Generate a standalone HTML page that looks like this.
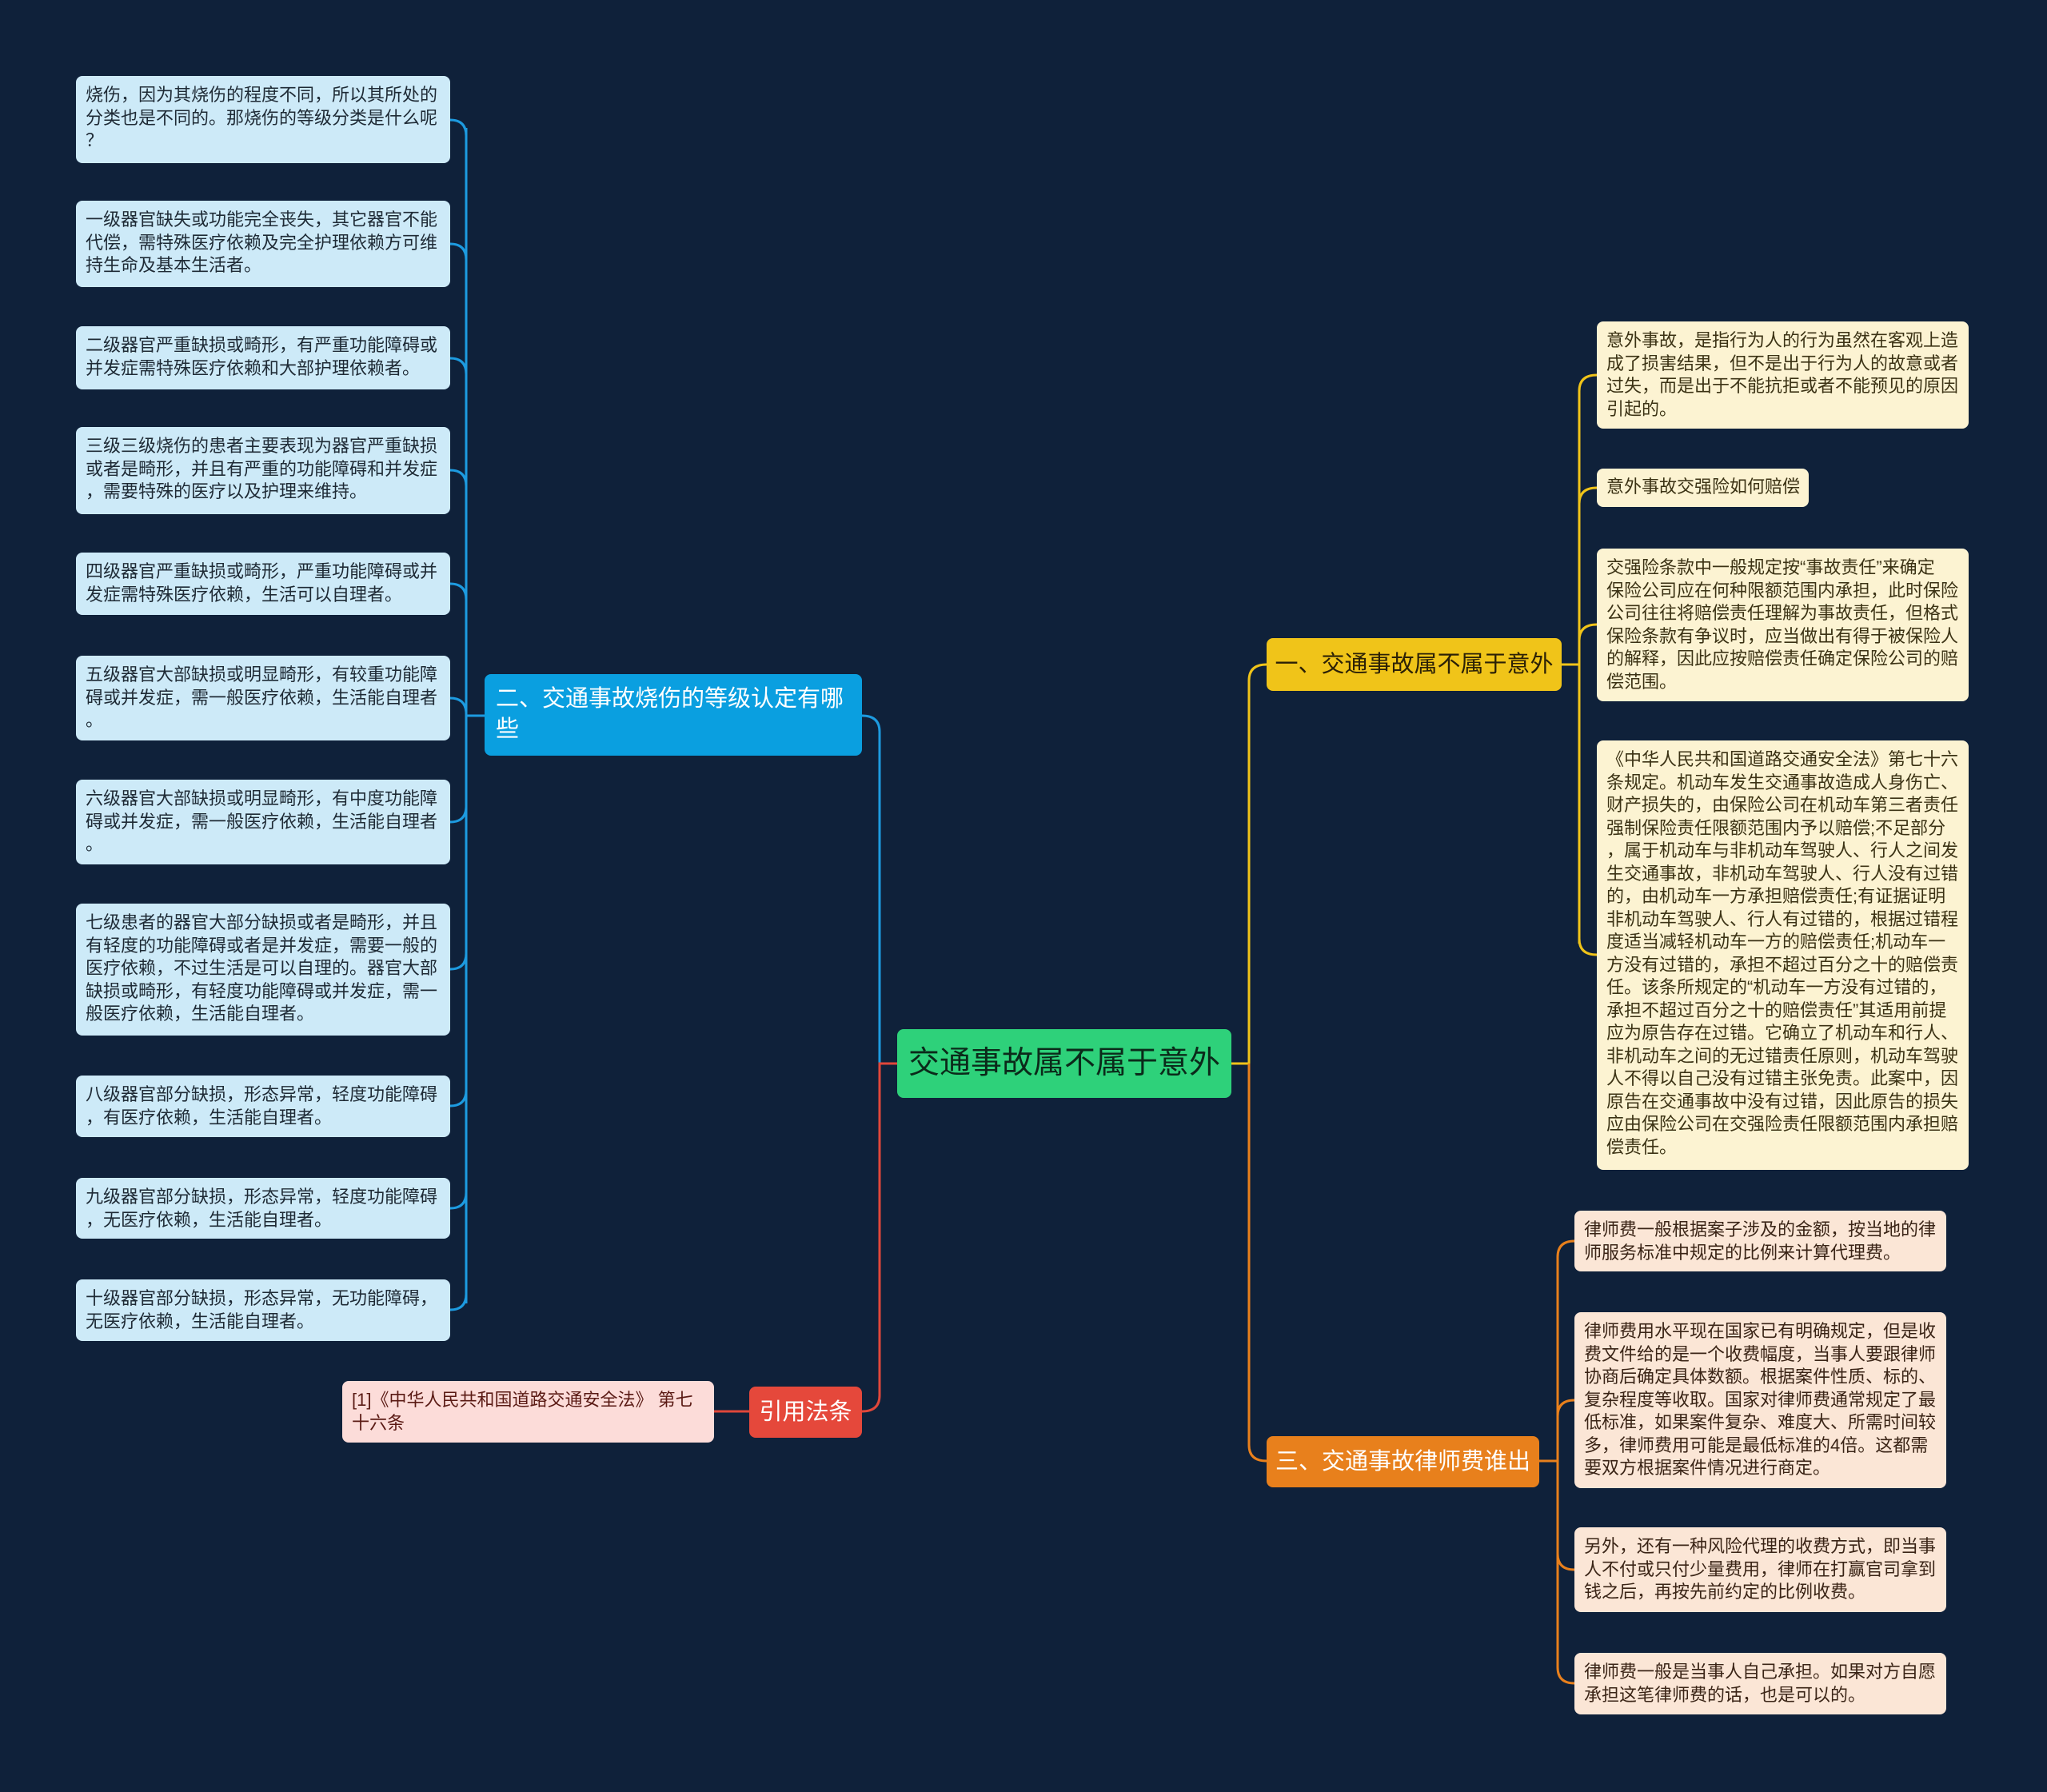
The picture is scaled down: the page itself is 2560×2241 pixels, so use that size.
<!DOCTYPE html>
<html><head><meta charset="utf-8"><style>
body{margin:0;width:2560px;height:2241px;background:#0f213a;position:relative;overflow:hidden;font-family:"Liberation Sans","Noto Sans CJK SC",sans-serif}
.b{position:absolute;box-sizing:border-box;border-radius:8px;font-size:22px;line-height:28.5px;padding:10px 12px;white-space:nowrap;color:#222}
.lb{background:#cdeaf8;color:#1e2a35}
.cr{background:#fcf3d2;color:#3b3214}
.pc{background:#fbe6d6;color:#3a2416}
.pk{background:#fcdcd9;color:#5a1a14}
.n{position:absolute;box-sizing:border-box;border-radius:8px;color:#fff;white-space:nowrap}
svg{position:absolute;left:0;top:0}
</style></head><body>
<svg width="2560" height="2241" fill="none" stroke-width="3">
<g stroke="#1d9be0">
<path d="M583 160 V1630"/>
<path d="M563 150 Q583 150 583 170"/><path d="M563 305 Q583 305 583 325"/><path d="M563 448 Q583 448 583 468"/><path d="M563 588 Q583 588 583 608"/><path d="M563 730 Q583 730 583 750"/><path d="M563 873 Q583 873 583 893"/><path d="M563 1028 Q583 1028 583 1008"/><path d="M563 1212 Q583 1212 583 1192"/><path d="M563 1383 Q583 1383 583 1363"/><path d="M563 1511 Q583 1511 583 1491"/><path d="M563 1638 Q583 1638 583 1618"/>
<path d="M583 895 H606"/>
<path d="M1078 895 Q1100 895 1100 915 V1330"/>
</g>
<g stroke="#e0473a"><path d="M1122 1330 H1100 V1745 Q1100 1765 1078 1765"/><path d="M893 1765 H937"/></g>
<g stroke="#f0c419">
<path d="M1540 1330 H1562 V851 Q1562 831 1584 831"/>
<path d="M1953 831 H1975"/>
<path d="M1975 489 V1180"/>
<path d="M1997 469 Q1975 469 1975 489"/><path d="M1997 610 Q1975 610 1975 630"/><path d="M1997 781 Q1975 781 1975 801"/><path d="M1997 1194 Q1975 1194 1975 1174"/>
</g>
<g stroke="#e8801c">
<path d="M1562 1330 V1807 Q1562 1827 1584 1827"/>
<path d="M1925 1827 H1948"/>
<path d="M1948 1572 V2085"/>
<path d="M1969 1552 Q1948 1552 1948 1572"/><path d="M1969 1751 Q1948 1751 1948 1771"/><path d="M1969 1963 Q1948 1963 1948 1943"/><path d="M1969 2105 Q1948 2105 1948 2085"/>
</g>
</svg>

<div class="b lb" style="left:95px;top:95px;width:468px;height:109px">烧伤，因为其烧伤的程度不同，所以其所处的<br>分类也是不同的。那烧伤的等级分类是什么呢<br>？</div>
<div class="b lb" style="left:95px;top:251px;width:468px;height:108px">一级器官缺失或功能完全丧失，其它器官不能<br>代偿，需特殊医疗依赖及完全护理依赖方可维<br>持生命及基本生活者。</div>
<div class="b lb" style="left:95px;top:408px;width:468px;height:79px">二级器官严重缺损或畸形，有严重功能障碍或<br>并发症需特殊医疗依赖和大部护理依赖者。</div>
<div class="b lb" style="left:95px;top:534px;width:468px;height:109px">三级三级烧伤的患者主要表现为器官严重缺损<br>或者是畸形，并且有严重的功能障碍和并发症<br>，需要特殊的医疗以及护理来维持。</div>
<div class="b lb" style="left:95px;top:691px;width:468px;height:78px">四级器官严重缺损或畸形，严重功能障碍或并<br>发症需特殊医疗依赖，生活可以自理者。</div>
<div class="b lb" style="left:95px;top:820px;width:468px;height:106px">五级器官大部缺损或明显畸形，有较重功能障<br>碍或并发症，需一般医疗依赖，生活能自理者<br>。</div>
<div class="b lb" style="left:95px;top:975px;width:468px;height:106px">六级器官大部缺损或明显畸形，有中度功能障<br>碍或并发症，需一般医疗依赖，生活能自理者<br>。</div>
<div class="b lb" style="left:95px;top:1130px;width:468px;height:165px">七级患者的器官大部分缺损或者是畸形，并且<br>有轻度的功能障碍或者是并发症，需要一般的<br>医疗依赖，不过生活是可以自理的。器官大部<br>缺损或畸形，有轻度功能障碍或并发症，需一<br>般医疗依赖，生活能自理者。</div>
<div class="b lb" style="left:95px;top:1345px;width:468px;height:77px">八级器官部分缺损，形态异常，轻度功能障碍<br>，有医疗依赖，生活能自理者。</div>
<div class="b lb" style="left:95px;top:1473px;width:468px;height:76px">九级器官部分缺损，形态异常，轻度功能障碍<br>，无医疗依赖，生活能自理者。</div>
<div class="b lb" style="left:95px;top:1600px;width:468px;height:77px">十级器官部分缺损，形态异常，无功能障碍，<br>无医疗依赖，生活能自理者。</div>

<div class="n" style="left:606px;top:843px;width:472px;height:102px;background:#0a9fe0;font-size:29px;line-height:38px;padding:12px 14px">二、交通事故烧伤的等级认定有哪<br>些</div>
<div class="n" style="left:1122px;top:1287px;width:418px;height:86px;background:#2ed17a;color:#0b2a1a;font-size:39px;line-height:86px;text-align:center">交通事故属不属于意外</div>
<div class="n" style="left:1584px;top:798px;width:369px;height:66px;background:#f0c419;color:#2c2106;font-size:29px;line-height:66px;text-align:center">一、交通事故属不属于意外</div>
<div class="n" style="left:1584px;top:1796px;width:341px;height:64px;background:#e8801c;color:#fff;font-size:29px;line-height:64px;text-align:center">三、交通事故律师费谁出</div>
<div class="n" style="left:937px;top:1734px;width:141px;height:64px;background:#e5483b;font-size:29px;line-height:64px;text-align:center">引用法条</div>
<div class="b pk" style="left:428px;top:1727px;width:465px;height:77px">[1]《中华人民共和国道路交通安全法》 第七<br>十六条</div>

<div class="b cr" style="left:1997px;top:402px;width:465px;height:134px">意外事故，是指行为人的行为虽然在客观上造<br>成了损害结果，但不是出于行为人的故意或者<br>过失，而是出于不能抗拒或者不能预见的原因<br>引起的。</div>
<div class="b cr" style="left:1997px;top:586px;width:265px;height:48px;padding-top:9px">意外事故交强险如何赔偿</div>
<div class="b cr" style="left:1997px;top:686px;width:465px;height:191px">交强险条款中一般规定按“事故责任”来确定<br>保险公司应在何种限额范围内承担，此时保险<br>公司往往将赔偿责任理解为事故责任，但格式<br>保险条款有争议时，应当做出有得于被保险人<br>的解释，因此应按赔偿责任确定保险公司的赔<br>偿范围。</div>
<div class="b cr" style="left:1997px;top:926px;width:465px;height:537px">《中华人民共和国道路交通安全法》第七十六<br>条规定。机动车发生交通事故造成人身伤亡、<br>财产损失的，由保险公司在机动车第三者责任<br>强制保险责任限额范围内予以赔偿;不足部分<br>，属于机动车与非机动车驾驶人、行人之间发<br>生交通事故，非机动车驾驶人、行人没有过错<br>的，由机动车一方承担赔偿责任;有证据证明<br>非机动车驾驶人、行人有过错的，根据过错程<br>度适当减轻机动车一方的赔偿责任;机动车一<br>方没有过错的，承担不超过百分之十的赔偿责<br>任。该条所规定的“机动车一方没有过错的，<br>承担不超过百分之十的赔偿责任”其适用前提<br>应为原告存在过错。它确立了机动车和行人、<br>非机动车之间的无过错责任原则，机动车驾驶<br>人不得以自己没有过错主张免责。此案中，因<br>原告在交通事故中没有过错，因此原告的损失<br>应由保险公司在交强险责任限额范围内承担赔<br>偿责任。</div>

<div class="b pc" style="left:1969px;top:1514px;width:465px;height:76px">律师费一般根据案子涉及的金额，按当地的律<br>师服务标准中规定的比例来计算代理费。</div>
<div class="b pc" style="left:1969px;top:1641px;width:465px;height:220px">律师费用水平现在国家已有明确规定，但是收<br>费文件给的是一个收费幅度，当事人要跟律师<br>协商后确定具体数额。根据案件性质、标的、<br>复杂程度等收取。国家对律师费通常规定了最<br>低标准，如果案件复杂、难度大、所需时间较<br>多，律师费用可能是最低标准的4倍。这都需<br>要双方根据案件情况进行商定。</div>
<div class="b pc" style="left:1969px;top:1910px;width:465px;height:106px">另外，还有一种风险代理的收费方式，即当事<br>人不付或只付少量费用，律师在打赢官司拿到<br>钱之后，再按先前约定的比例收费。</div>
<div class="b pc" style="left:1969px;top:2067px;width:465px;height:77px">律师费一般是当事人自己承担。如果对方自愿<br>承担这笔律师费的话，也是可以的。</div>
</body></html>
